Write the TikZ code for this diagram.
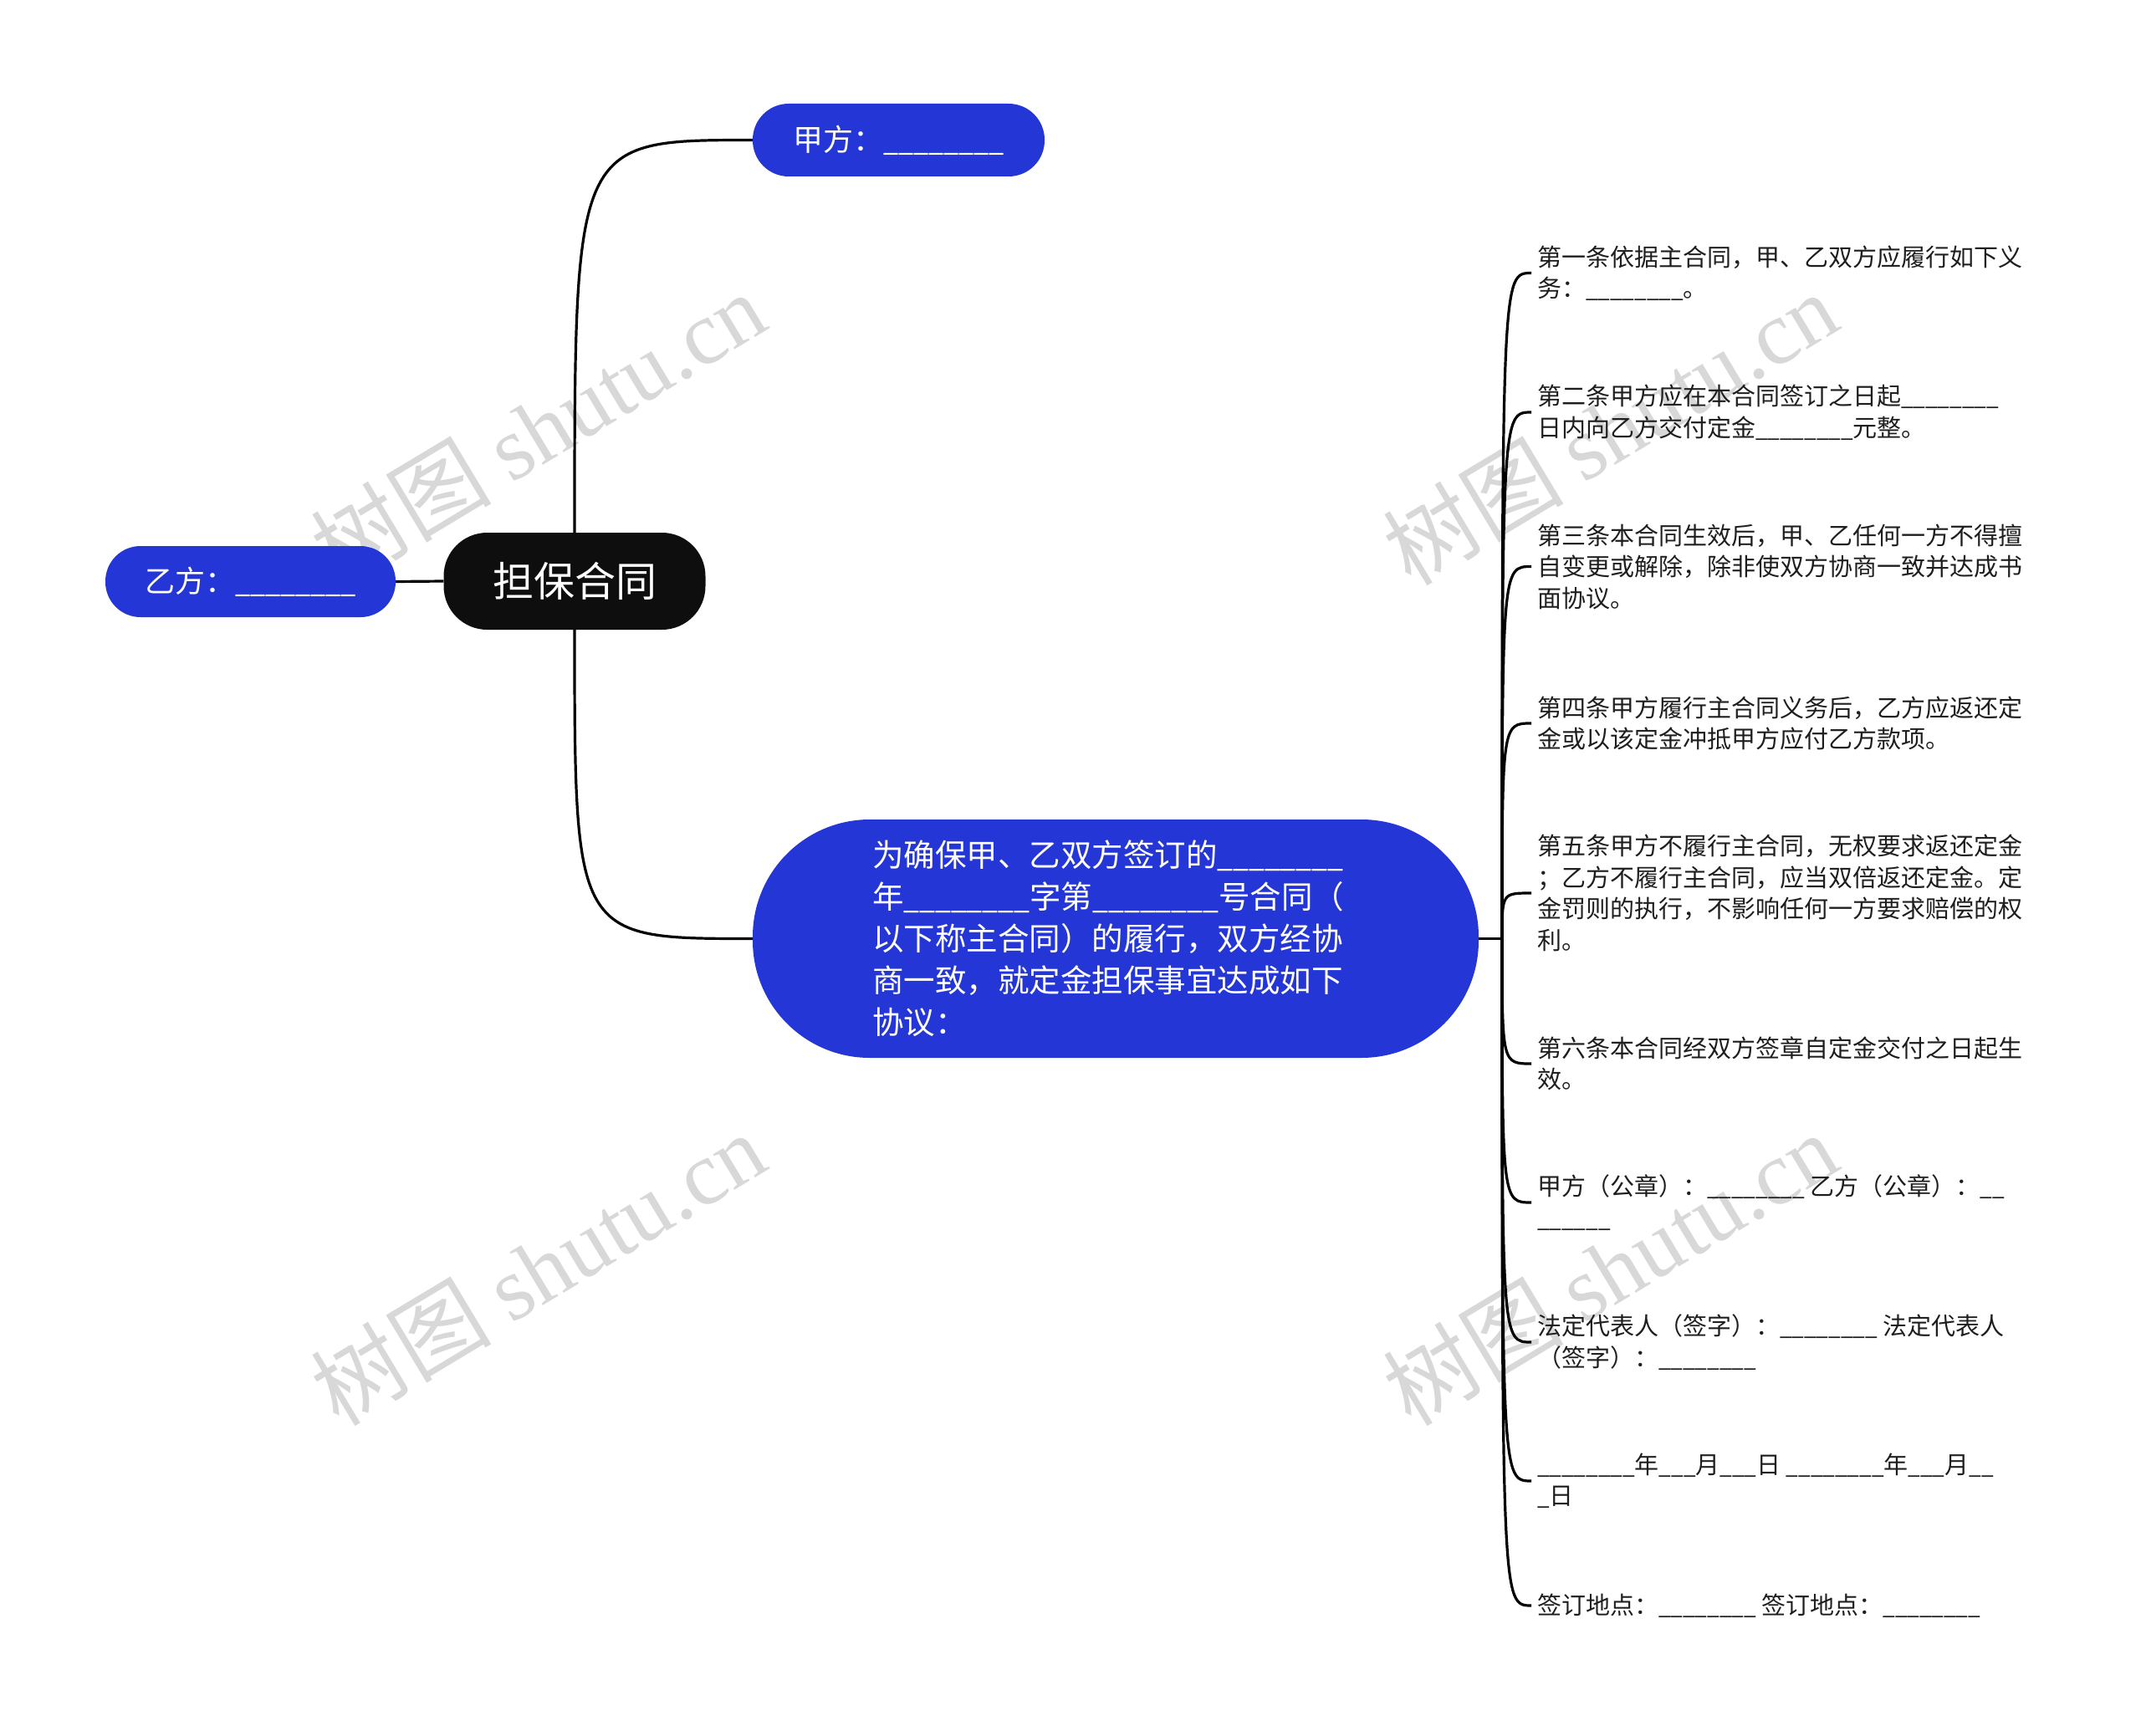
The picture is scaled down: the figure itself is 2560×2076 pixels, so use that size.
\documentclass[tikz,border=0pt]{standalone}
\usepackage{fontspec}
\usepackage{graphicx}
\setmainfont{Noto Sans CJK SC}
\newfontfamily\wmlatin{Liberation Serif}
\definecolor{nodeblue}{HTML}{2437D6}
\definecolor{rootblack}{HTML}{0E0E0E}
\definecolor{wmgray}{HTML}{D8D8D8}
\definecolor{leaftext}{HTML}{1E1E1E}
\newcommand\eightus{\scalebox{0.9}[1]{\_\_\_\_\_\_\_\_}}
\newcommand\threeus{\scalebox{0.9}[1]{\_\_\_}}
\newcommand\twous{\scalebox{0.9}[1]{\_\_}}
\newcommand\sixus{\scalebox{0.9}[1]{\_\_\_\_\_\_}}
\newcommand\oneus{\scalebox{0.9}[1]{\_}}
\begin{document}
\begin{tikzpicture}[x=1pt,y=-1pt,
  pill/.style={fill=nodeblue, text=white, inner sep=0pt, font=\fontsize{36}{44}\selectfont},
  conn/.style={line width=3.2pt, draw=black},
  leaf/.style={anchor=west, align=left, inner sep=7pt, text=leaftext, font=\fontsize{29}{37.5}\selectfont},
  wm/.style={text=wmgray, rotate=31, inner sep=0pt, font=\fontsize{108}{120}\selectfont}]
\useasboundingbox (0,0) rectangle (2560,2076);
% watermarks
\node[wm] (wm1) at (643,512) {树图 {\wmlatin shutu.cn}};
\node[wm] (wm2) at (1925,512) {树图 {\wmlatin shutu.cn}};
\node[wm] (wm3) at (643,1517) {树图 {\wmlatin shutu.cn}};
\node[wm] (wm4) at (1925,1517) {树图 {\wmlatin shutu.cn}};
% nodes
\node[fill=rootblack, rounded corners=52pt, minimum width=313pt, minimum height=116pt, inner sep=0pt, text=white, font=\fontsize{49}{55}\selectfont] (root) at (687,695) {担保合同};
\node[pill, rounded corners=43pt, minimum width=349pt, minimum height=87pt] (ja) at (1074.5,167.5) {甲方：\eightus};
\node[pill, rounded corners=42pt, minimum width=347pt, minimum height=85pt] (yi) at (299.5,695.5) {乙方：\eightus};
\node[fill=nodeblue, rounded corners=140pt, minimum width=868pt, minimum height=285pt, inner sep=0pt, text=white, text width=582pt, align=left, font=\fontsize{37.5}{50}\selectfont] (main) at (1334,1122.5)
  {为确保甲、乙双方签订的\eightus\\年\eightus 字第\eightus 号合同（\\以下称主合同）的履行，双方经协\\商一致，就定金担保事宜达成如下\\协议：};
% leaves
\node[leaf] (l1) at (1831,326.5) {第一条依据主合同，甲、乙双方应履行如下义\\务：\eightus。};
\node[leaf] (l2) at (1831,493) {第二条甲方应在本合同签订之日起\eightus\\日内向乙方交付定金\eightus 元整。};
\node[leaf] (l3) at (1831,677.5) {第三条本合同生效后，甲、乙任何一方不得擅\\自变更或解除，除非使双方协商一致并达成书\\面协议。};
\node[leaf] (l4) at (1831,865) {第四条甲方履行主合同义务后，乙方应返还定\\金或以该定金冲抵甲方应付乙方款项。};
\node[leaf] (l5) at (1831,1068) {第五条甲方不履行主合同，无权要求返还定金\\；乙方不履行主合同，应当双倍返还定金。定\\金罚则的执行，不影响任何一方要求赔偿的权\\利。};
\node[leaf] (l6) at (1831,1272) {第六条本合同经双方签章自定金交付之日起生\\效。};
\node[leaf] (l7) at (1831,1438) {甲方（公章）：\eightus{} 乙方（公章）：\twous\\\sixus};
\node[leaf] (l8) at (1831,1605) {法定代表人（签字）：\eightus{} 法定代表人\\（签字）：\eightus};
\node[leaf] (l9) at (1831,1771) {\eightus 年\threeus 月\threeus 日 \eightus 年\threeus 月\twous\\\oneus 日};
\node[leaf] (l10) at (1831,1920) {签订地点：\eightus{} 签订地点：\eightus};
% connectors
\draw[conn] (yi.east) -- (root.west);
\draw[conn] (root.north) .. controls (root.north |- ja.west) .. (ja.west);
\draw[conn] (root.south) .. controls (root.south |- main.west) .. (main.west);
\coordinate (fork) at (1796,1122.5);
\draw[conn] (main.east) -- (fork);
\foreach \i in {1,...,10}{
  \draw[conn] (fork) .. controls (fork |- l\i.west) .. (l\i.west);
}
\end{tikzpicture}
\end{document}
